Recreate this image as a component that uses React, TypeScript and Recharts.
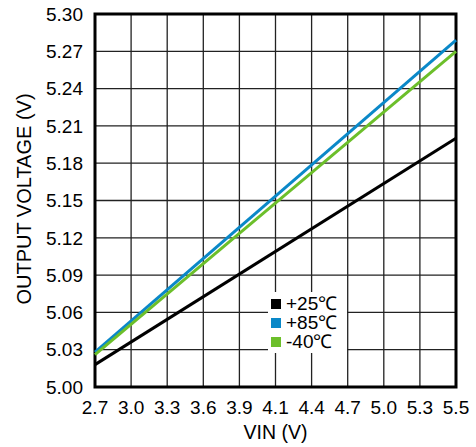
import { LineChart, Line, XAxis, YAxis, CartesianGrid, ReferenceArea, Legend } from "recharts";

const vin = [2.7, 5.5];
const t25 = [5.018, 5.2];
const t85 = [5.028, 5.279];
const tm40 = [5.026, 5.27];

const xTicks = [2.7, 2.98, 3.26, 3.54, 3.82, 4.1, 4.38, 4.66, 4.94, 5.22, 5.5];
const xLabels = ["2.7", "3.0", "3.3", "3.6", "3.9", "4.1", "4.4", "4.7", "5.0", "5.3", "5.5"];
const yTicks = [5.0, 5.03, 5.06, 5.09, 5.12, 5.15, 5.18, 5.21, 5.24, 5.27, 5.3];

const series = [
    { key: "t25", name: "+25℃", color: "#000000" },
    { key: "t85", name: "+85℃", color: "#0a88c8" },
    { key: "tm40", name: "-40℃", color: "#6cbf2a" },
];

const data = vin.map((v, i) => ({ vin: v, t25: t25[i], t85: t85[i], tm40: tm40[i] }));

const font = "'Liberation Sans', Arial, sans-serif";

function LegendBox() {
    return (
        <div style={{ background: "#fff", padding: "2px 3px", fontFamily: font, fontSize: 19, color: "#000", lineHeight: "19px" }}>
            {series.map((s) => (
                <div key={s.key} style={{ display: "flex", alignItems: "center", height: 19 }}>
                    <span style={{ width: 10, height: 10, background: s.color, marginRight: 5, flexShrink: 0 }} />
                    <span>{s.name}</span>
                </div>
            ))}
        </div>
    );
}

export default function App() {
    return (
        <div style={{ position: "absolute", left: 0, top: 0, background: "#fff" }}>
            <LineChart width={476} height={447} data={data} margin={{ top: 14, right: 20, bottom: 0, left: 0 }}>
                <CartesianGrid stroke="#222" strokeWidth={1.3} horizontalValues={yTicks} verticalValues={xTicks} />
                <XAxis
                    dataKey="vin"
                    type="number"
                    domain={[2.7, 5.5]}
                    ticks={xTicks}
                    tickFormatter={(v) => xLabels[xTicks.indexOf(v)] ?? String(v)}
                    interval={0}
                    height={60}
                    tickLine={false}
                    axisLine={false}
                    tickMargin={8}
                    tick={{ fontSize: 19, fill: "#000", fontFamily: font }}
                    label={{
                        content: () => (
                            <text x={275.5} y={439} textAnchor="middle" fontSize={19.5} fill="#000" fontFamily={font}>
                                VIN (V)
                            </text>
                        ),
                    }}
                />
                <YAxis
                    type="number"
                    domain={[5.0, 5.3]}
                    ticks={yTicks}
                    interval={0}
                    width={95}
                    tickFormatter={(v) => v.toFixed(2)}
                    tickLine={false}
                    axisLine={false}
                    tickMargin={6}
                    tick={{ fontSize: 19, fill: "#000", fontFamily: font }}
                    label={{
                        content: () => (
                            <text
                                x={24}
                                y={199}
                                transform="rotate(-90 24 199)"
                                textAnchor="middle"
                                dominantBaseline="central"
                                fontSize={20}
                                fill="#000"
                                fontFamily={font}
                            >
                                OUTPUT VOLTAGE (V)
                            </text>
                        ),
                    }}
                />
                <ReferenceArea x1={2.7} x2={5.5} y1={5.0} y2={5.3} fill="none" stroke="#000" strokeWidth={3} fillOpacity={0} />
                {series.map((s) => (
                    <Line
                        key={s.key}
                        dataKey={s.key}
                        name={s.name}
                        stroke={s.color}
                        strokeWidth={3}
                        dot={false}
                        isAnimationActive={false}
                    />
                ))}
                <Legend
                    content={<LegendBox />}
                    layout="vertical"
                    verticalAlign="middle"
                    align="center"
                    wrapperStyle={{ left: 268, top: 292, width: 79 }}
                />
            </LineChart>
        </div>
    );
}
